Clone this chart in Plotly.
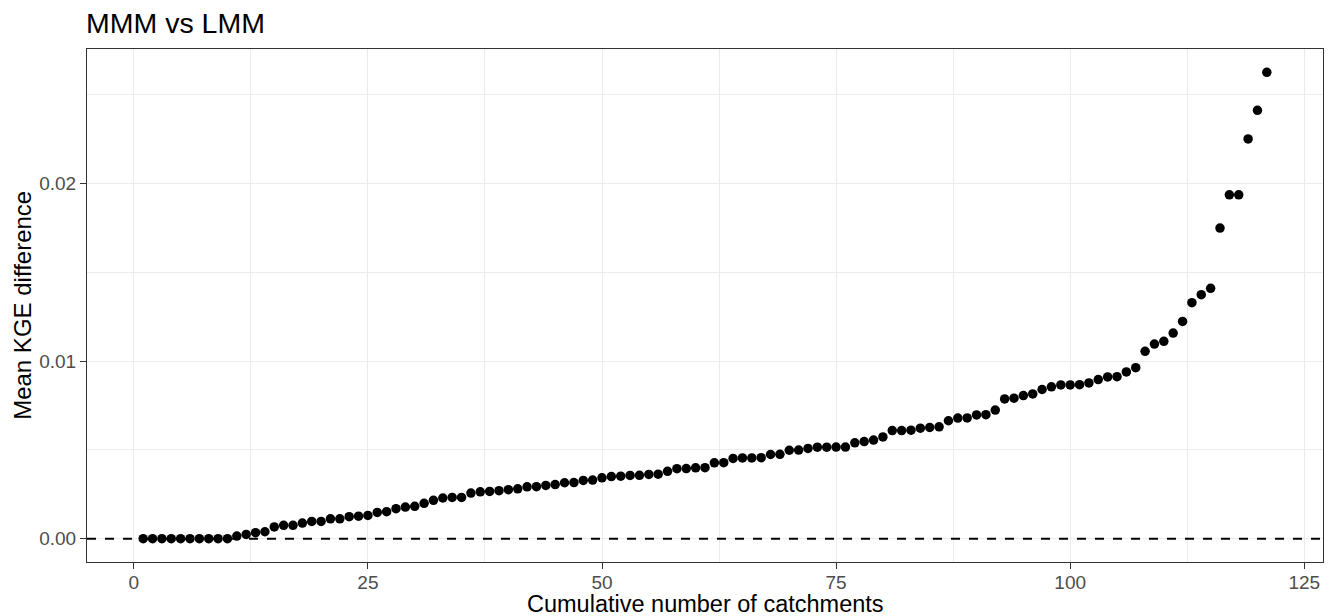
import plotly.graph_objects as go

# Cumulative number of catchments (x) and mean KGE difference (y)
catchments = list(range(1, 122))
kge_diff = [
    0.0, 0.0, 0.0, 0.0, 0.0, 0.0, 0.0, 0.0, 0.0, 0.0,
    0.00015, 0.00024, 0.00034, 0.00039, 0.00066, 0.00075, 0.00075, 0.00088, 0.00097, 0.00097,
    0.00112, 0.00112, 0.00124, 0.00127, 0.00131, 0.00148, 0.00152, 0.00169, 0.00178, 0.00182,
    0.00199, 0.00216, 0.00229, 0.00232, 0.00232, 0.00257, 0.00264, 0.00266, 0.00270, 0.00276,
    0.00281, 0.00292, 0.00293, 0.00300, 0.00305, 0.00315, 0.00316, 0.00328, 0.00330, 0.00343,
    0.00350, 0.00352, 0.00356, 0.00357, 0.00362, 0.00363, 0.00379, 0.00394, 0.00395, 0.00399,
    0.00400, 0.00427, 0.00428, 0.00452, 0.00455, 0.00455, 0.00456, 0.00474, 0.00475, 0.00498,
    0.00499, 0.00508, 0.00515, 0.00515, 0.00516, 0.00516, 0.00540, 0.00547, 0.00555, 0.00573,
    0.00609, 0.00609, 0.00611, 0.00622, 0.00626, 0.00630, 0.00664, 0.00679, 0.00680, 0.00697,
    0.00698, 0.00724, 0.00787, 0.00791, 0.00806, 0.00815, 0.00840, 0.00855, 0.00866, 0.00866,
    0.00867, 0.00877, 0.00896, 0.00911, 0.00912, 0.00939, 0.00963, 0.01055, 0.01096, 0.01111,
    0.01158, 0.01223, 0.01329, 0.01374, 0.01410, 0.01749, 0.01936, 0.01936, 0.02251, 0.02412,
    0.02626,
]
x_ticks = [0, 25, 50, 75, 100, 125]
y_ticks = [0.0, 0.01, 0.02]
y_tick_labels = ["0.00", "0.01", "0.02"]

FONT = "Liberation Sans, Arial, sans-serif"
GRID = "#EBEBEB"
BORDER = "#333333"

# The page body adds an 8px offset; the figure is sized to fit the window.
W, H = 1325, 608
ML, MR, MT, MB = 78.7, 9.7, 41.3, 53.7
PW, PH = W - ML - MR, H - MT - MB

fig = go.Figure()
fig.add_trace(go.Scatter(
    x=catchments, y=kge_diff, mode="markers",
    marker=dict(color="black", size=9.5, line=dict(width=0)),
    showlegend=False, hoverinfo="x+y",
))
fig.add_hline(y=0, line=dict(color="black", width=2, dash="9px,9px"), layer="above")

ymin, ymax = min(kge_diff), max(kge_diff)
ypad = 0.05 * (ymax - ymin)
xpad = 0.05 * (max(catchments) - min(catchments))

axis_common = dict(
    showline=True, mirror=True, linecolor=BORDER, linewidth=1.1,
    ticks="outside", ticklen=6, tickwidth=1.1, tickcolor=BORDER,
    tickfont=dict(family=FONT, size=19, color="#4D4D4D"),
    showgrid=True, gridcolor=GRID, gridwidth=1.3, zeroline=False,
)

fig.update_layout(
    width=W, height=H,
    margin=dict(l=ML, r=MR, t=MT, b=MB, autoexpand=False),
    paper_bgcolor="white", plot_bgcolor="white",
    font=dict(family=FONT, color="black"),
    title=dict(text="MMM vs LMM", font=dict(family=FONT, size=28.5, color="black"),
               x=78 / W, xref="container", xanchor="left",
               y=1 - 15 / H, yref="container", yanchor="middle"),
    xaxis=dict(range=[min(catchments) - xpad, max(catchments) + xpad],
               tickvals=x_ticks, ticktext=[str(v) for v in x_ticks],
               ticklabelstandoff=-3,
               minor=dict(dtick=12.5, tick0=0, showgrid=True, gridcolor=GRID, gridwidth=0.6, ticks=""),
               **axis_common),
    yaxis=dict(range=[ymin - ypad, ymax + ypad],
               tickvals=y_ticks, ticktext=y_tick_labels,
               minor=dict(dtick=0.005, tick0=0, showgrid=True, gridcolor=GRID, gridwidth=0.6, ticks=""),
               **axis_common),
    annotations=[
        dict(text="Cumulative number of catchments", xref="paper", yref="paper",
             x=0.5, y=-(596 - (H - MB)) / PH, xanchor="center", yanchor="middle",
             showarrow=False, font=dict(family=FONT, size=23.5, color="black")),
        dict(text="Mean KGE difference", xref="paper", yref="paper",
             x=(14 - ML) / PW, y=0.5, xanchor="center", yanchor="middle",
             textangle=-90, showarrow=False, font=dict(family=FONT, size=24, color="black")),
    ],
)

fig.write_html("out.html")
